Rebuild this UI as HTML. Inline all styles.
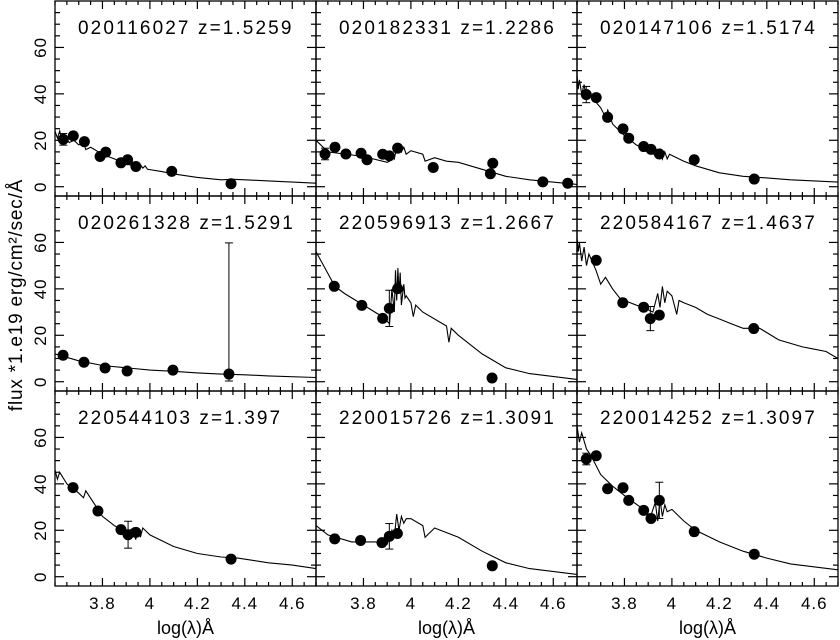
<!DOCTYPE html>
<html><head><meta charset="utf-8">
<style>
html,body{margin:0;padding:0;background:#fff;}
svg{display:block;font-family:"Liberation Sans","DejaVu Sans",sans-serif;}
</style></head>
<body>
<svg id="chart" width="840" height="640" viewBox="0 0 840 640"></svg>
<script>
// ---- data ----
const titles = ["020116027  z=1.5259","020182331  z=1.2286","020147106  z=1.5174",
"020261328  z=1.5291","220596913  z=1.2667","220584167  z=1.4637",
"220544103  z=1.397","220015726  z=1.3091","220014252  z=1.3097"];
const xTicks = [3.8,4.0,4.2,4.4,4.6];
const xTickLabels = ["3.8","4","4.2","4.4","4.6"];
const yTicks = [0,20,40,60];
const yTickLabels = ["0","20","40","60"];
const obsX = [
 [3.635,3.677,3.724,3.79,3.814,3.878,3.906,3.941,4.092,4.342],
 [3.638,3.68,3.726,3.79,3.815,3.881,3.909,3.944,4.094,4.335,4.345,4.556,4.661],
 [3.639,3.681,3.729,3.794,3.818,3.881,3.912,3.947,4.094,4.347],
 [3.634,3.722,3.811,3.904,4.097,4.333],
 [3.677,3.793,3.881,3.909,3.944,4.342],
 [3.681,3.793,3.881,3.909,3.947,4.345],
 [3.676,3.781,3.878,3.908,3.941,4.342],
 [3.679,3.788,3.878,3.909,3.943,4.343],
 [3.639,3.681,3.729,3.794,3.818,3.881,3.912,3.947,4.094,4.347]];
const obsY = [
 [20.4,21.9,19.4,13.0,14.9,10.3,11.6,8.7,6.6,1.3],
 [14.1,17.0,14.1,14.4,11.6,14.0,13.3,16.6,8.3,5.6,10.1,2.1,1.5],
 [39.7,38.4,29.9,24.9,20.9,17.3,16.1,14.1,11.6,3.3],
 [11.4,8.4,5.9,4.6,5.0,3.3],
 [41.1,32.9,27.3,31.6,40.1,1.6],
 [52.3,34.0,32.1,27.2,28.7,22.9],
 [38.4,28.3,20.3,18.1,19.1,7.6],
 [16.3,15.6,14.7,17.4,18.6,4.7],
 [50.7,52.1,37.9,38.3,32.9,28.6,25.1,32.9,19.4,9.7]];
const errHi = [
 [2.5,1.5,1.5,1.5,1.5,1,1,1,1,0.5],
 [2.5,1.5,1.5,1,1,1,1,1.5,1.5,1,1,0.5,0.5],
 [3.5,1.5,1.5,1,1,1,1,1,1,0.5],
 [1,0.8,0.8,0.8,1.5,56.5],
 [1,1.5,1,7.8,1.5,0.5],
 [1,1.5,1,5.2,1.5,1],
 [1.5,1.5,1.5,5.8,1.5,1],
 [1,1,1,5.5,1,0.5],
 [2.5,1,1.5,1,1,1,1,7.8,1.5,1]];
const errLo = [
 [2.5,1.5,1.5,1.5,1.5,1,1,1,1,0.5],
 [2.5,1.5,1.5,1,1,1,1,1.5,1.5,1,1,0.5,0.5],
 [3.5,1.5,1.5,1,1,1,1,1,1,0.5],
 [1,0.8,0.8,0.8,1.5,3],
 [1,1.5,1,7.8,1.5,0.5],
 [1,1.5,1,5.2,1.5,1],
 [1.5,1.5,1.5,5.8,1.5,1],
 [1,1,1,5.5,1,0.5],
 [2.5,1,1.5,1,1,1,1,7.8,1.5,1]];
const modelX = [
 [3.6,3.61,3.62,3.63,3.64,3.66,3.68,3.7,3.72,3.73,3.75,3.8,3.85,3.9,3.95,3.96,3.97,3.98,3.99,4.05,4.1,4.2,4.3,4.35,4.4,4.5,4.7],
 [3.6,3.65,3.8,3.9,3.91,3.92,3.93,3.94,3.95,3.96,3.97,3.98,4.0,4.05,4.06,4.1,4.15,4.2,4.3,4.4,4.5,4.7],
 [3.6,3.605,3.61,3.62,3.63,3.64,3.65,3.7,3.72,3.73,3.75,3.76,3.8,3.85,3.9,3.94,3.95,3.96,3.97,3.98,3.99,4.05,4.1,4.2,4.3,4.4,4.5,4.7],
 [3.6,3.7,3.8,3.9,4.0,4.1,4.2,4.3,4.4,4.5,4.7],
 [3.6,3.68,3.72,3.8,3.88,3.91,3.92,3.93,3.935,3.94,3.945,3.95,3.955,3.96,3.97,3.975,3.98,4.0,4.01,4.02,4.05,4.15,4.16,4.17,4.2,4.3,4.4,4.5,4.7],
 [3.6,3.605,3.61,3.62,3.63,3.64,3.65,3.68,3.7,3.72,3.75,3.78,3.8,3.85,3.9,3.92,3.94,3.95,3.96,3.97,3.98,4.0,4.02,4.03,4.05,4.1,4.15,4.2,4.25,4.3,4.37,4.45,4.55,4.6,4.65,4.7],
 [3.6,3.61,3.62,3.65,3.7,3.72,3.73,3.8,3.85,3.9,3.93,3.94,3.95,3.96,3.97,4.0,4.1,4.2,4.3,4.37,4.5,4.6,4.7],
 [3.6,3.65,3.75,3.85,3.9,3.92,3.93,3.94,3.95,3.96,3.97,3.98,4.0,4.05,4.06,4.1,4.2,4.3,4.4,4.5,4.7],
 [3.6,3.61,3.62,3.64,3.66,3.7,3.75,3.8,3.88,3.91,3.93,3.94,3.95,3.96,3.97,3.98,4.0,4.05,4.1,4.2,4.3,4.4,4.5,4.7]];
const modelY = [
 [24,21,24,20,22,19,20,18,19,16,17,14,12,10,8,9.5,8,9,7.5,6.5,5.5,4,3,3.2,3,2.5,1.5],
 [20,15,13,10.5,11,14,12,17,18,15,17,14,15.5,14,11,12.5,11,10.5,7.5,4.5,3,1],
 [48,42,46,40,44,38,40,34,30,33,27,26,22,18,15.5,13,16,12,15,12,14,11,9,6,4.5,3.8,3,2],
 [12,9,7,6,5,4.5,3.8,3.3,3,2.5,1.8],
 [56,41,38,33,28,25,40,30,48,35,49,38,47,33,42,36,37,34,28,33,30,24,17,23,20,12,6,3.5,1],
 [62,56,60,52,58,50,55,48,42,45,40,36,35,33,31,30,38,32,41,34,39,37,29,35,34,32,29,27,25,23,23,18,15,14,13,10],
 [46,42,45,40,36,34,37,26,22,19,21,16,21,17,21,18,13,10,8.5,8,6,5,3.5],
 [22,18,15,15,14,20,17,27,20,26,23,25,25,22,17,21,17,11,6,3.5,1],
 [65,58,62,55,52,44,39,35,29,26,32,24,33,26,31,28,29,24,20,15,11,8,5.5,3]];
// ---- layout ----
const colX = [55,316,577], rowY = [1,196,391], PW = 261, PH = 195;
const XMIN = 3.6, XMAX = 4.7, YMIN = -4, YMAX = 80;
const NS = "http://www.w3.org/2000/svg";
const svg = document.getElementById("chart");
function mk(tag, attrs, parent){
  const e = document.createElementNS(NS, tag);
  for (const k in attrs) e.setAttribute(k, attrs[k]);
  (parent||svg).appendChild(e); return e;
}
for (let p = 0; p < 9; p++){
  const c = p % 3, r = Math.floor(p / 3);
  const x0 = colX[c], y0 = rowY[r];
  const sx = v => x0 + (v - XMIN) / (XMAX - XMIN) * PW;
  const sy = v => y0 + (YMAX - v) / (YMAX - YMIN) * PH;
  const g = mk("g", {});
  
  
  const frame = mk("rect", {x:x0, y:y0, width:PW, height:PH, fill:"none", stroke:"#000", "stroke-width":1.3}, g);
  
  
  for (let i = 0; i <= 22; i++){
    const v = 3.6 + i * 0.05; if (v > 4.7001) break;
    const major = Math.abs(v*5 - Math.round(v*5)) < 1e-6 && v > 3.65;
    const len = major ? 8 : 4, X = sx(v);
    mk("line", {x1:X, x2:X, y1:y0+PH, y2:y0+PH-len, stroke:"#000", "stroke-width":1.2}, g);
    mk("line", {x1:X, x2:X, y1:y0, y2:y0+len, stroke:"#000", "stroke-width":1.2}, g);
  }
  for (let v = 0; v <= 75; v += 5){
    const major = v % 20 === 0, len = major ? 9 : 5, Y = sy(v);
    mk("line", {x1:x0, x2:x0+len, y1:Y, y2:Y, stroke:"#000", "stroke-width":1.2}, g);
    mk("line", {x1:x0+PW, x2:x0+PW-len, y1:Y, y2:Y, stroke:"#000", "stroke-width":1.2}, g);
  }
  if (r === 2){
    xTicks.forEach((v,i) => {
      const t = mk("text", {x:sx(v), y:609, "text-anchor":"middle", "font-size":17, "letter-spacing":"1"}, svg);
      t.textContent = xTickLabels[i];
      
      
    });
    const xl = mk("text", {x:x0+PW/2, y:634, "text-anchor":"middle", "font-size":18}, svg);
    xl.textContent = "log(λ)Å";
    
    
  }
  if (c === 0){
    yTicks.forEach((v,i) => {
      const Y = sy(v);
      const t = mk("text", {x:0, y:0, "text-anchor":"middle", "font-size":17, "letter-spacing":"1", transform:`translate(46,${Y}) rotate(-90)`}, svg);
      t.textContent = yTickLabels[i];
      
      
    });
  }
  const tt = mk("text", {x:x0+23, y:y0+33, "font-size":19, "letter-spacing":"2.1", "xml:space":"preserve"}, g);
  tt.textContent = titles[p];
  
  
  const cp = mk("clipPath", {id:"cp"+p}, g);
  mk("rect", {x:x0, y:y0, width:PW, height:PH}, cp);
  const pts = modelX[p].map((v,i) => sx(v).toFixed(1) + "," + sy(modelY[p][i]).toFixed(1)).join(" ");
  const pl = mk("polyline", {points:pts, fill:"none", stroke:"#000", "stroke-width":1.1, "clip-path":`url(#cp${p})`}, g);
  
  
  obsX[p].forEach((v,i) => {
    const X = sx(v), Y = sy(obsY[p][i]);
    const y1 = sy(obsY[p][i] + errHi[p][i]), y2 = sy(obsY[p][i] - errLo[p][i]);
    mk("line", {x1:X, x2:X, y1:y1, y2:y2, stroke:"#000", "stroke-width":1}, g);
    mk("line", {x1:X-4, x2:X+4, y1:y1, y2:y1, stroke:"#000", "stroke-width":1}, g);
    mk("line", {x1:X-4, x2:X+4, y1:y2, y2:y2, stroke:"#000", "stroke-width":1}, g);
    const d = mk("circle", {cx:X, cy:Y, r:5.5, fill:"#000"}, g);
    
    
  });
}
const yt = mk("text", {x:0, y:0, "text-anchor":"middle", "font-size":19, "letter-spacing":"0.8", transform:"translate(22,295) rotate(-90)"}, svg);
yt.textContent = "flux *1.e19 erg/cm²/sec/Å";


</script>
</body></html>
